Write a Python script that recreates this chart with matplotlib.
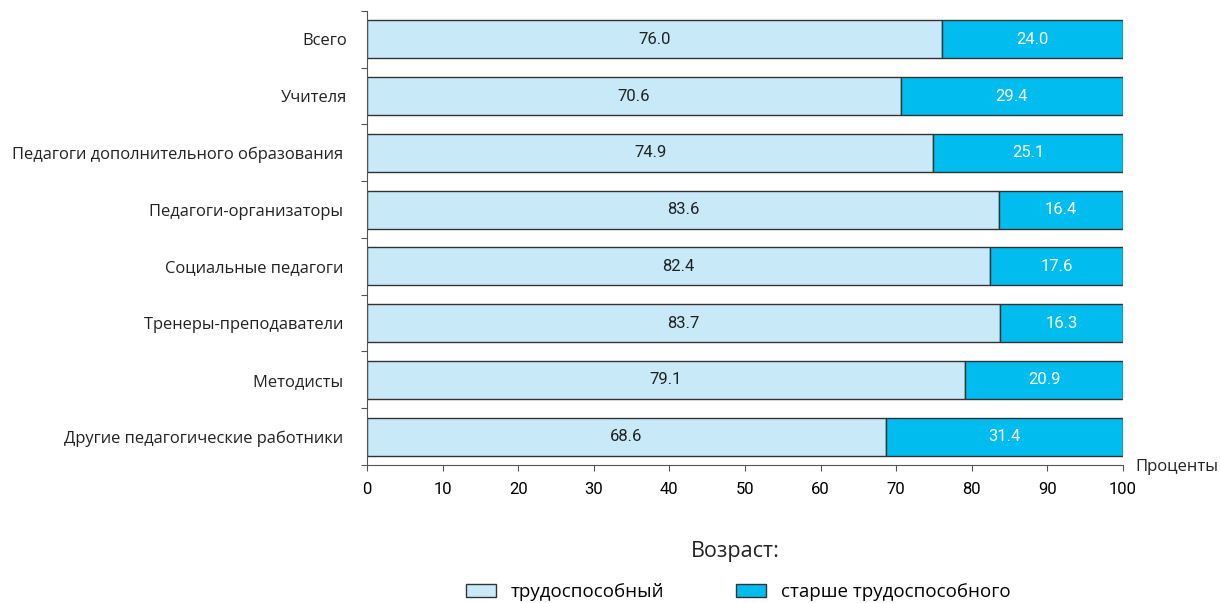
import matplotlib.pyplot as plt
from matplotlib.font_manager import fontManager
from matplotlib.patches import Patch

categories = ['Всего', 'Учителя', 'Педагоги дополнительного образования ',
              'Педагоги-организаторы ', 'Социальные педагоги ',
              'Тренеры-преподаватели ', 'Методисты ',
              'Другие педагогические работники ']
working = [76.0, 70.6, 74.9, 83.6, 82.4, 83.7, 79.1, 68.6]
older = [24.0, 29.4, 25.1, 16.4, 17.6, 16.3, 20.9, 31.4]
legend_labels = ['трудоспособный', 'старше трудоспособного']

names = {f.name for f in fontManager.ttflist}
label_font = ['Open Sans', 'DejaVu Sans']
num_font = ['Liberation Sans Narrow'] if 'Liberation Sans Narrow' in names else ['Roboto', 'DejaVu Sans']

c_light = '#c7e9f8'
c_dark = '#00bcef'
edge = '#333333'

fig = plt.figure(figsize=(12.2, 6.03), dpi=100)
ax = fig.add_axes([0.3008, 0.2289, 0.6197, 0.7529])

y = list(range(len(categories)))
ax.barh(y, working, height=0.67, color=c_light, edgecolor=edge, linewidth=1)
ax.barh(y, older, left=working, height=0.67, color=c_dark, edgecolor=edge, linewidth=1)

for i in y:
    ax.text(working[i] / 2, i, f'{working[i]:.1f}', ha='center', va='center',
            fontsize=12, family=num_font, color='#222222')
    ax.text(working[i] + older[i] / 2, i, f'{older[i]:.1f}', ha='center', va='center',
            fontsize=12, family=num_font, color='white')

ax.set_xlim(0, 100)
ax.set_ylim(len(categories) - 0.5, -0.5)
ax.set_xticks(range(0, 101, 10))
ax.set_xticklabels([str(v) for v in range(0, 101, 10)], family=num_font, fontsize=12)
ax.set_yticks([i + 0.5 for i in range(-1, len(categories))])
ax.set_yticklabels([])
ax.set_yticks(y, minor=True)
ax.set_yticklabels(categories, minor=True, family=label_font, fontsize=11.9, color='#222222')
ax.tick_params(axis='y', which='minor', length=0, pad=14)
ax.tick_params(axis='y', which='major', length=4, color='#555555')
ax.tick_params(axis='x', length=4, color='#555555', pad=8)
for s in ['top', 'right']:
    ax.spines[s].set_visible(False)
for s in ['left', 'bottom']:
    ax.spines[s].set_color('#555555')

fig.text(0.931, 0.2255, 'Проценты', family=label_font, fontsize=12, ha='left', va='center', color='#222222')

handles = [Patch(facecolor=c_light, edgecolor=edge, label=legend_labels[0]),
           Patch(facecolor=c_dark, edgecolor=edge, label=legend_labels[1])]
fig.text(0.603, 0.085, 'Возраст:', family=label_font, fontsize=15.5, ha='center', va='center', color='#222222')
leg = fig.legend(handles=handles, loc='center', bbox_to_anchor=(0.605, 0.018), ncol=2, frameon=False,
                 prop={'family': label_font, 'size': 13.5}, handlelength=1.6, handleheight=0.75,
                 columnspacing=3.8, handletextpad=0.8)

fig.savefig('out.png', dpi=100)
